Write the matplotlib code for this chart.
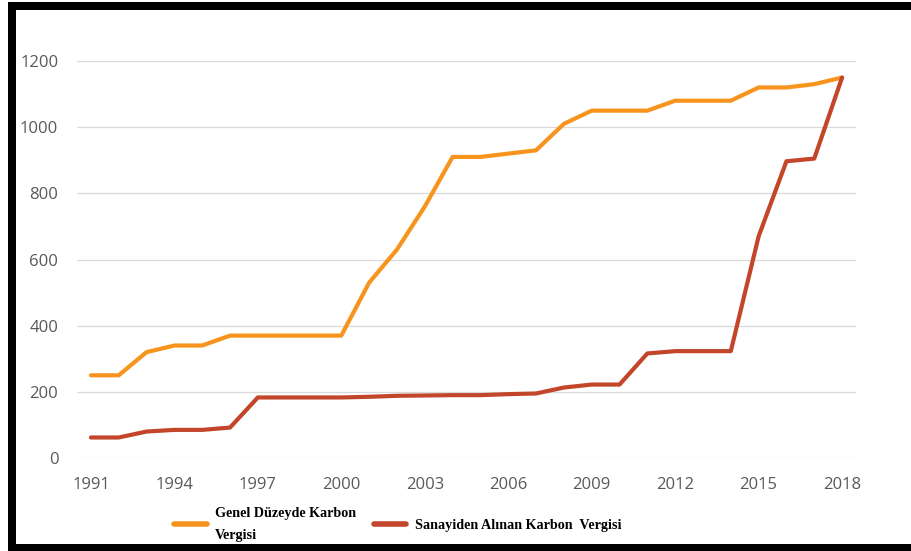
import matplotlib.pyplot as plt
from matplotlib.patches import Rectangle

years = list(range(1991, 2019))
genel = [250, 250, 320, 340, 340, 370, 370, 370, 370, 370,
         530, 630, 760, 910, 910, 920, 930, 1010, 1050, 1050,
         1050, 1080, 1080, 1080, 1120, 1120, 1130, 1150]
sanayi = [62, 62, 80, 85, 85, 92, 183, 183, 183, 183,
          185, 188, 189, 190, 190, 193, 195, 213, 222, 222,
          316, 323, 323, 323, 670, 897, 905, 1150]
xtick_years = list(range(1991, 2019, 3))
yticks = [0, 200, 400, 600, 800, 1000, 1200]

label_genel = 'Genel Düzeyde Karbon\nVergisi'
label_sanayi = 'Sanayiden Alınan Karbon  Vergisi'

W, H = 911, 551
fig = plt.figure(figsize=(W / 100, H / 100), dpi=100)
ax = fig.add_axes([77 / W, 1 - 458 / H, (856 - 77) / W, (458 - 61) / H])

ax.plot(years, genel, color='#F7941D', lw=3.0, solid_capstyle='round',
        solid_joinstyle='round', clip_on=False, label=label_genel, zorder=3)
ax.plot(years, sanayi, color='#C3462A', lw=3.0, solid_capstyle='round',
        solid_joinstyle='round', clip_on=False, label=label_sanayi, zorder=3)

ax.set_xlim(1990.5, 2018.5)
ax.set_ylim(0, 1200)
ax.set_xticks(xtick_years)
ax.set_yticks(yticks)
ax.yaxis.grid(True, color='#D9D9D9', lw=0.9)
ax.set_axisbelow(True)
for s in ax.spines.values():
    s.set_visible(False)
ax.tick_params(length=0, labelsize=12, labelcolor='#595959')
ax.tick_params(axis='y', pad=13.5)
ax.tick_params(axis='x', pad=14)
for lab in ax.get_xticklabels() + ax.get_yticklabels():
    lab.set_fontfamily('Open Sans')

leg = fig.legend(loc='center left', bbox_to_anchor=(174 / W, 1 - 524 / H),
                 ncol=2, frameon=False, borderpad=0, borderaxespad=0,
                 handlelength=2.3, handletextpad=0.6, columnspacing=1.25,
                 prop={'family': 'Liberation Serif', 'weight': 'bold', 'size': 10.2})
for t in leg.get_texts():
    t.set_linespacing(1.9)
for h in leg.legend_handles:
    h.set_linewidth(4)
    h.set_solid_capstyle('round')

# black frame of the screenshot
fig.add_artist(Rectangle((8 / W, 1 - 10 / H), 1, 8 / H, transform=fig.transFigure,
                         color='black', lw=0))
fig.add_artist(Rectangle((8 / W, 0), 8 / W, 1 - 2 / H, transform=fig.transFigure,
                         color='black', lw=0))
fig.add_artist(Rectangle((8 / W, 0), 1, 7 / H, transform=fig.transFigure,
                         color='black', lw=0))

fig.savefig('out.png', dpi=100)
